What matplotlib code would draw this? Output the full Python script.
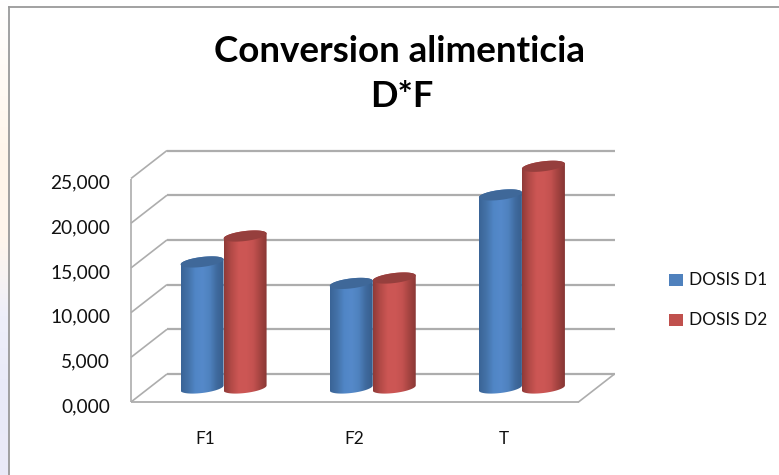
import numpy as np
import matplotlib
matplotlib.use("Agg")
import matplotlib.pyplot as plt
from matplotlib.colors import LinearSegmentedColormap
from matplotlib.path import Path
from matplotlib.patches import PathPatch, Polygon, Rectangle
from matplotlib.transforms import ScaledTranslation

categories = ["F1", "F2", "T"]
dosis_d1 = [14.1, 11.7, 21.6]
dosis_d2 = [17.0, 12.3, 24.8]
series_names = ["DOSIS D1", "DOSIS D2"]
y_ticks = [0, 5, 10, 15, 20, 25]
y_labels = ["0,000", "5,000", "10,000", "15,000", "20,000", "25,000"]

W, H = 779, 475
plt.rcParams["font.family"] = ["Lato", "DejaVu Sans"]
fig = plt.figure(figsize=(W / 100, H / 100), dpi=100)
fig.patch.set_facecolor("white")

# page background left of the chart frame
bg = fig.add_axes([0, 0, 8.5 / W, 1])
bg.axis("off")
bg_cmap = LinearSegmentedColormap.from_list(
    "bg", ["#ffffff", "#fffaf4", "#fff5ea", "#fff6ec", "#eeeffa", "#e9eaf8", "#ebebf8"])
bg.imshow(np.linspace(0, 1, 256)[:, None], cmap=bg_cmap, aspect="auto")

def rect(l, t, r, b):
    return [l / W, 1 - b / H, (r - l) / W, (b - t) / H]

ax = fig.add_axes(rect(149, 164.5, 596.5, 388))
ax.set_xlim(-0.5, 2.5)
ax.set_ylim(0, 25)
ax.patch.set_alpha(0)
for s in ax.spines.values():
    s.set_visible(False)

# depth of the fake 3-D box, in data units per half depth
DX = 18 / (447.5 / 3)
DY = 14 / (223.5 / 25)
GRID = "#adadad"

def proj(x, v, d):
    return x + d * DX, v + d * DY

def seg(a, b, lw=1.5, color=GRID, z=1):
    ax.plot([a[0], b[0]], [a[1], b[1]], color=color, lw=lw, clip_on=False, zorder=z,
            solid_capstyle="butt")

x0, x1 = -0.5, 2.5
for v in y_ticks:
    seg(proj(x0, v, 1), proj(x1, v, 1), lw=1.6)
    seg(proj(x0, v, -1), proj(x0, v, 1), lw=1.2)
seg(proj(x0, 0, -1), proj(x0, 25, -1), lw=1.2)
seg(proj(x0, 0, -1), proj(x1, 0, -1), lw=1.3)
seg(proj(x1, 0, -1), proj(x1, 0, 1), lw=1.2)

shade = lambda c: LinearSegmentedColormap.from_list("c", c)
blue = shade(["#3a6496", "#4472a8", "#5086c6", "#5589ca", "#4f82bf", "#3f6a9e", "#375d8c"])
red = shade(["#8f3a38", "#b34a47", "#cc5654", "#cd5755", "#c45250", "#a34340", "#863634"])
TOPS = ["#3f6899", "#963f3d"]
BAR_W = 43 / (447.5 / 3)
ELL = 10 / (223.5 / 25)
SHEAR = 5 / (223.5 / 25)
grad = np.linspace(0, 1, 256)[None, :]

def outline(xc, val, t):
    # tilted cap of the cylinder: the right side sits higher than the left
    return (xc + BAR_W / 2 * np.cos(t),
            val + ELL / 2 * np.sin(t) + SHEAR / 2 * np.cos(t))

def cylinder(xc, val, cmap, top, z):
    l, r = xc - BAR_W / 2, xc + BAR_W / 2
    bx, by = outline(xc, 0, np.linspace(np.pi, 2 * np.pi, 40))
    tx, ty = outline(xc, val, np.linspace(0, np.pi, 40))
    verts = list(zip(bx, by)) + list(zip(tx, ty))
    verts.append(verts[0])
    im = ax.imshow(grad, cmap=cmap, extent=[l, r, -ELL * 2, val + ELL * 2], aspect="auto",
                   zorder=z)
    clip = PathPatch(Path(verts), transform=ax.transData, fc="none", ec="none")
    ax.add_patch(clip)
    im.set_clip_box(fig.bbox)
    im.set_clip_path(clip)
    cx, cy = outline(xc, val, np.linspace(0, 2 * np.pi, 80))
    ax.add_patch(Polygon(np.column_stack([cx, cy]), fc=top, ec="none", zorder=z + 0.1, clip_on=False))

positions = np.arange(len(categories))
for i, xc in enumerate(positions):
    cylinder(xc - BAR_W / 2, dosis_d1[i], blue, TOPS[0], 3)
    cylinder(xc + BAR_W / 2, dosis_d2[i], red, TOPS[1], 4)
ax.set_xlim(-0.5, 2.5)
ax.set_ylim(0, 25)

ax.set_yticks(y_ticks, y_labels)
ax.set_xticks(positions, categories)
ax.tick_params(axis="y", length=0, labelsize=13.8, labelcolor="#111111", pad=28)
ax.tick_params(axis="x", length=0, labelsize=12.4, labelcolor="#111111", pad=31)
off_y = ScaledTranslation(0, -17 / 100, fig.dpi_scale_trans)
off_x = ScaledTranslation(-18 / 100, 0, fig.dpi_scale_trans)
for lab in ax.get_yticklabels():
    lab.set_transform(lab.get_transform() + off_y)
for lab in ax.get_xticklabels():
    lab.set_transform(lab.get_transform() + off_x)

fig.text(400 / W, 1 - 62 / H, "Conversion alimenticia", ha="center", va="baseline",
         fontsize=26.5, fontweight="bold", color="black")
fig.text(401.5 / W, 1 - 107 / H, "D*F", ha="center", va="baseline",
         fontsize=26, fontweight="bold", color="black")

# legend
swatches = ["#4f81bd", "#c0504d"]
for (name, col, yy) in zip(series_names, swatches, [280, 320]):
    fig.add_artist(Rectangle((669 / W, 1 - (yy + 6) / H), 14 / W, 12 / H, fc=col, ec="none",
                             transform=fig.transFigure))
    fig.text(689 / W, 1 - yy / H, name, ha="left", va="center", fontsize=12.4, color="#111111")

# chart frame
FRAME = "#9a9a9a"
fig.add_artist(plt.Line2D([8.7 / W, 8.7 / W], [0, 1 - 7 / H], color=FRAME, lw=1.3))
fig.add_artist(plt.Line2D([8.7 / W, 1], [1 - 7 / H, 1 - 7 / H], color=FRAME, lw=1.3))

fig.savefig("out.png", dpi=100)
